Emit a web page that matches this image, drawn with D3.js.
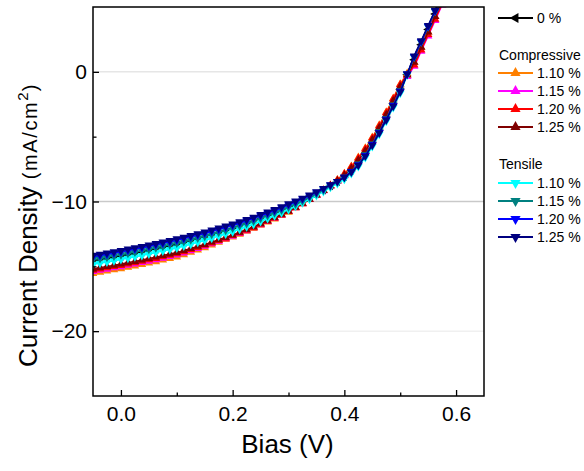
<!DOCTYPE html>
<html><head><meta charset="utf-8">
<script src="https://cdn.jsdelivr.net/npm/d3@7"></script>
<style>
body{margin:0;background:#fff;}
text{font-family:"Liberation Sans",Arial,sans-serif;fill:#000;}
</style></head>
<body><svg id="c" width="584" height="471"></svg>
<script>
const bias = [-0.05,-0.0375,-0.025,-0.0125,0,0.0125,0.025,0.0375,0.05,0.0625,0.075,0.0875,0.1,0.1125,0.125,0.1375,0.15,0.1625,0.175,0.1875,0.2,0.2125,0.225,0.2375,0.25,0.2625,0.275,0.2875,0.3,0.3125,0.325,0.3375,0.35,0.3625,0.375,0.3875,0.4,0.4125,0.425,0.4375,0.45,0.4625,0.475,0.4875,0.5,0.5125,0.525,0.5375,0.55,0.5625,0.575];

const strain0 = [-14.60,-14.51,-14.42,-14.32,-14.23,-14.12,-14.02,-13.91,-13.80,-13.69,-13.57,-13.45,-13.33,-13.20,-13.06,-12.92,-12.78,-12.62,-12.46,-12.30,-12.13,-11.95,-11.76,-11.57,-11.36,-11.15,-10.94,-10.71,-10.48,-10.23,-9.97,-9.70,-9.42,-9.12,-8.81,-8.47,-8.08,-7.60,-7.01,-6.30,-5.46,-4.52,-3.51,-2.45,-1.35,-0.22,0.93,2.09,3.27,4.46,5.66];

const comp110 = [-15.55,-15.46,-15.37,-15.27,-15.18,-15.07,-14.97,-14.86,-14.75,-14.64,-14.52,-14.40,-14.28,-14.11,-13.92,-13.74,-13.56,-13.35,-13.15,-12.94,-12.73,-12.52,-12.30,-12.08,-11.84,-11.59,-11.35,-11.09,-10.83,-10.51,-10.19,-9.85,-9.50,-9.14,-8.76,-8.33,-7.86,-7.29,-6.61,-5.90,-5.06,-4.12,-3.11,-2.05,-0.95,-0.12,0.73,1.89,3.07,4.26,5.46];
const comp115 = [-15.40,-15.31,-15.22,-15.12,-15.03,-14.92,-14.82,-14.71,-14.60,-14.49,-14.37,-14.25,-14.13,-13.97,-13.80,-13.63,-13.46,-13.26,-13.07,-12.88,-12.68,-12.47,-12.25,-12.03,-11.79,-11.54,-11.30,-11.04,-10.78,-10.48,-10.17,-9.85,-9.52,-9.17,-8.81,-8.43,-8.01,-7.49,-6.86,-6.15,-5.31,-4.37,-3.36,-2.30,-1.20,-0.37,0.43,1.59,2.77,3.96,5.16];
const comp120 = [-15.30,-15.21,-15.12,-15.02,-14.93,-14.82,-14.72,-14.61,-14.50,-14.39,-14.27,-14.15,-14.03,-13.88,-13.71,-13.55,-13.38,-13.20,-13.01,-12.83,-12.63,-12.43,-12.21,-12.00,-11.76,-11.53,-11.29,-11.04,-10.78,-10.47,-10.15,-9.83,-9.49,-9.13,-8.76,-8.35,-7.88,-7.33,-6.66,-5.95,-5.11,-4.17,-3.16,-2.10,-1.00,-0.25,0.53,1.69,2.87,4.06,5.26];
const comp125 = [-15.20,-15.11,-15.02,-14.92,-14.83,-14.72,-14.62,-14.51,-14.40,-14.29,-14.17,-14.05,-13.93,-13.78,-13.62,-13.46,-13.31,-13.13,-12.95,-12.77,-12.58,-12.38,-12.16,-11.95,-11.71,-11.48,-11.24,-10.99,-10.73,-10.44,-10.14,-9.83,-9.50,-9.16,-8.81,-8.42,-7.98,-7.45,-6.81,-6.10,-5.26,-4.32,-3.31,-2.25,-1.15,-0.22,0.73,1.89,3.07,4.26,5.46];

const tens110 = [-14.85,-14.76,-14.67,-14.57,-14.48,-14.37,-14.27,-14.16,-14.05,-13.94,-13.82,-13.70,-13.58,-13.44,-13.30,-13.15,-13.01,-12.84,-12.67,-12.51,-12.33,-12.14,-11.95,-11.75,-11.54,-11.32,-11.10,-10.87,-10.63,-10.37,-10.10,-9.83,-9.54,-9.23,-8.91,-8.62,-8.28,-7.85,-7.31,-6.60,-5.76,-4.82,-3.81,-2.75,-1.65,-0.25,1.18,2.34,3.52,4.71,5.91];
const tens115 = [-14.48,-14.39,-14.30,-14.20,-14.11,-14.00,-13.90,-13.79,-13.68,-13.57,-13.45,-13.33,-13.21,-13.09,-12.95,-12.82,-12.68,-12.53,-12.37,-12.22,-12.05,-11.87,-11.69,-11.50,-11.30,-11.09,-10.88,-10.66,-10.43,-10.19,-9.94,-9.68,-9.40,-9.11,-8.81,-8.50,-8.13,-7.68,-7.11,-6.40,-5.56,-4.62,-3.61,-2.55,-1.45,-0.17,1.13,2.29,3.47,4.66,5.86];
const tens120 = [-14.25,-14.16,-14.07,-13.97,-13.88,-13.77,-13.67,-13.56,-13.45,-13.34,-13.22,-13.10,-12.98,-12.86,-12.72,-12.59,-12.46,-12.30,-12.15,-11.99,-11.83,-11.66,-11.48,-11.30,-11.10,-10.90,-10.70,-10.48,-10.26,-10.03,-9.80,-9.55,-9.29,-9.02,-8.73,-8.45,-8.12,-7.69,-7.16,-6.45,-5.61,-4.67,-3.66,-2.60,-1.50,-0.17,1.18,2.34,3.52,4.71,5.91];
const tens125 = [-14.15,-14.06,-13.97,-13.87,-13.78,-13.67,-13.57,-13.46,-13.35,-13.24,-13.12,-13.00,-12.88,-12.76,-12.62,-12.49,-12.36,-12.20,-12.05,-11.89,-11.73,-11.56,-11.39,-11.21,-11.01,-10.81,-10.62,-10.40,-10.18,-9.96,-9.74,-9.50,-9.25,-8.99,-8.71,-8.45,-8.13,-7.73,-7.21,-6.50,-5.66,-4.72,-3.71,-2.65,-1.55,-0.17,1.23,2.39,3.57,4.76,5.96];

const xTicks = [0.0, 0.2, 0.4, 0.6];
const xMinorTicks = [0.1, 0.3, 0.5];
const yTicks = [0, -10, -20];
const yMinorTicks = [-5, -15];
const xTitle = "Bias (V)";

const series = [
  {name:"0 %", color:"#000000", shape:"left", values:strain0, group:"none"},
  {name:"1.10 %", color:"#FF8000", shape:"up", values:comp110, group:"Compressive"},
  {name:"1.15 %", color:"#FF00FF", shape:"up", values:comp115, group:"Compressive"},
  {name:"1.20 %", color:"#FF0000", shape:"up", values:comp120, group:"Compressive"},
  {name:"1.25 %", color:"#800000", shape:"up", values:comp125, group:"Compressive"},
  {name:"1.10 %", color:"#00FFFF", shape:"down", values:tens110, group:"Tensile"},
  {name:"1.15 %", color:"#008080", shape:"down", values:tens115, group:"Tensile"},
  {name:"1.20 %", color:"#0000FF", shape:"down", values:tens120, group:"Tensile"},
  {name:"1.25 %", color:"#000080", shape:"down", values:tens125, group:"Tensile"}
];

const svg = d3.select("#c");
const L = 93, R = 484, T = 7, B = 396;
const x = d3.scaleLinear().domain([-0.05, 0.65]).range([L, R]);
const y = d3.scaleLinear().domain([-25, 5]).range([B, T]);
const rot = {up:0, down:180, left:-90};

svg.append("clipPath").attr("id","clip").append("rect")
  .attr("x",L).attr("y",T).attr("width",R-L).attr("height",B-T);

// gridlines
const gridColors = {"0":"#e6e6e6","-10":"#c9c9c9","-20":"#f0f0f0"};
svg.append("g").selectAll("line").data(yTicks).join("line")
  .attr("x1",L).attr("x2",R).attr("y1",d=>y(d)).attr("y2",d=>y(d))
  .attr("stroke",d=>gridColors[String(d)]).attr("stroke-width",1.5);

// series
const plot = svg.append("g").attr("clip-path","url(#clip)");
const sym = d3.symbol().type(d3.symbolTriangle).size(32);
series.forEach(s=>{
  const pts = bias.map((b,i)=>[b, s.values[i]]);
  plot.append("path").datum(pts)
    .attr("fill","none").attr("stroke",s.color).attr("stroke-width",1.5)
    .attr("d", d3.line().curve(d3.curveMonotoneX).x(d=>x(d[0])).y(d=>y(d[1])));
  plot.append("g").selectAll("path").data(pts).join("path")
    .attr("d", sym)
    .attr("transform", d=>`translate(${x(d[0])},${y(d[1])}) rotate(${rot[s.shape]})`)
    .attr("fill", s.color);
});

// axes
const fs = "21px";
const ax = svg.append("g").attr("transform",`translate(0,${B})`)
  .call(d3.axisBottom(x).tickValues(xTicks).tickFormat(d3.format(".1f")).tickSize(-6).tickPadding(10));
ax.select(".domain").remove();
ax.selectAll("text").style("font-size",fs).attr("font-family",null);
ax.selectAll("line").attr("stroke","#000").attr("stroke-width",1.3);
const axm = svg.append("g").attr("transform",`translate(0,${B})`)
  .call(d3.axisBottom(x).tickValues(xMinorTicks).tickFormat("").tickSize(-3.5));
axm.select(".domain").remove();
axm.selectAll("line").attr("stroke","#000").attr("stroke-width",1.3);

const ay = svg.append("g").attr("transform",`translate(${L},0)`)
  .call(d3.axisLeft(y).tickValues(yTicks).tickFormat(d3.format("d")).tickSize(-6).tickPadding(6));
ay.select(".domain").remove();
ay.selectAll("text").style("font-size",fs).attr("font-family",null);
ay.selectAll("line").attr("stroke","#000").attr("stroke-width",1.3);
const aym = svg.append("g").attr("transform",`translate(${L},0)`)
  .call(d3.axisLeft(y).tickValues(yMinorTicks).tickFormat("").tickSize(-3.5));
aym.select(".domain").remove();
aym.selectAll("line").attr("stroke","#000").attr("stroke-width",1.3);

// frame
svg.append("rect").attr("x",L).attr("y",T).attr("width",R-L).attr("height",B-T)
  .attr("fill","none").attr("stroke","#000").attr("stroke-width",1.5);

// titles
svg.append("text").attr("x",(L+R)/2 - 1).attr("y",453).attr("text-anchor","middle")
  .style("font-size","26px").text(xTitle);
const yt = svg.append("text").attr("transform","translate(37,367) rotate(-90)")
  .attr("text-anchor","start").style("font-size","26px");
yt.append("tspan").text("Current Density ");
yt.append("tspan").style("font-size","20px").style("letter-spacing","1.6px").text("(mA/cm");
yt.append("tspan").style("font-size","15px").attr("dy","-9").text("2");
yt.append("tspan").style("font-size","20px").attr("dy","9").attr("dx","1").text(")");

// legend
const lg = svg.append("g");
const rows = [
  {type:"item", s:series[0], y:18},
  {type:"head", text:"Compressive", y:55},
  {type:"item", s:series[1], y:73},
  {type:"item", s:series[2], y:91},
  {type:"item", s:series[3], y:109},
  {type:"item", s:series[4], y:127},
  {type:"head", text:"Tensile", y:164},
  {type:"item", s:series[5], y:183},
  {type:"item", s:series[6], y:201},
  {type:"item", s:series[7], y:219},
  {type:"item", s:series[8], y:237}
];
const lsym = d3.symbol().type(d3.symbolTriangle).size(45);
rows.forEach(r=>{
  if(r.type==="head"){
    lg.append("text").attr("x",499).attr("y",r.y).attr("dy","0.35em")
      .style("font-size","14px").text(r.text);
  } else {
    lg.append("line").attr("x1",498).attr("x2",533).attr("y1",r.y).attr("y2",r.y)
      .attr("stroke",r.s.color).attr("stroke-width",2);
    lg.append("path").attr("d",lsym)
      .attr("transform",`translate(515.5,${r.y}) rotate(${rot[r.s.shape]})`)
      .attr("fill",r.s.color);
    lg.append("text").attr("x",537).attr("y",r.y).attr("dy","0.35em")
      .style("font-size","14px").text(r.s.name);
  }
});
</script></body></html>
